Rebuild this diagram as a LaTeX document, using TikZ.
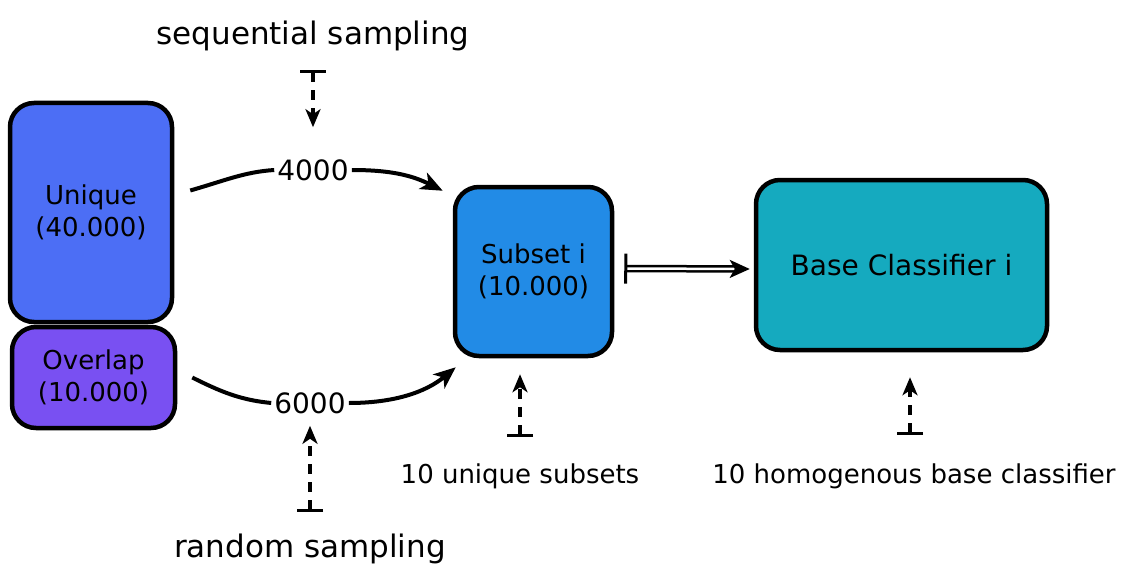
\documentclass[tikz,border=0pt]{standalone}
\usepackage{fontspec}
\setmainfont{DejaVu Sans}
\usepackage{xcolor}
\usetikzlibrary{arrows.meta}

\definecolor{uniqueblue}{HTML}{4C6EF5}
\definecolor{overlapviolet}{HTML}{7950F2}
\definecolor{subsetblue}{HTML}{228BE6}
\definecolor{basecyan}{HTML}{15AABF}

\begin{document}
\begin{tikzpicture}[x=1pt, y=-1pt,
  box/.style={draw=black, line width=4.5pt, rounded corners=24pt, align=center, inner sep=0pt, font=\fontsize{26}{32}\selectfont},
  flow/.style={line width=4pt, -{Stealth[length=22pt,width=18pt,inset=6pt]}},
  link/.style={double, line width=2.5pt, double distance=2.5pt, {Bar[width=30pt,line width=3pt]}-{Stealth[length=20pt,width=18pt,inset=5pt]}},
  hint/.style={line width=3.2pt, dash pattern=on 10pt off 8pt, {Bar[width=26pt]}-{Stealth[length=18pt,width=15pt,inset=5pt]}},
  count/.style={fill=white, inner sep=0pt, inner xsep=3pt, font=\fontsize{28}{30}\selectfont},
  note/.style={inner sep=0pt, anchor=base, font=\fontsize{26}{30}\selectfont},
  title/.style={inner sep=0pt, anchor=base, font=\fontsize{31}{34}\selectfont}]
  % Page frame
  \useasboundingbox (0,0) rectangle (1129,583);

  % Data boxes
  \node[box, fill=uniqueblue, minimum width=162pt, minimum height=219pt] (unique) at (91,212.5) {Unique\\(40.000)};
  \node[box, fill=overlapviolet, minimum width=163pt, minimum height=101pt] (overlap) at (93.5,377.5) {Overlap\\(10.000)};
  \node[box, fill=subsetblue, minimum width=157pt, minimum height=169pt] (subset) at (533.5,271.5) {Subset i\\(10.000)};
  \node[box, fill=basecyan, minimum width=291pt, minimum height=170pt, font=\fontsize{28}{32}\selectfont] (base) at (901.5,265) {Base Classifier i};

  % Counts on the curves
  \node[count] (n4000) at (313,170) {4000};
  \node[count] (n6000) at (310,403) {6000};

  % Sampling curves
  \draw[flow] ([shift={(16pt,22pt)}]unique.east) .. controls +(35,-10) and +(-30,2) .. (n4000.west)
    (n4000.east) .. controls +(40,0) and +(-30,-15) .. ([shift={(-10pt,-6pt)}]subset.north west);
  \draw[flow] ([xshift=15pt]overlap.east) .. controls +(30,15) and +(-30,-3) .. (n6000.west)
    (n6000.east) .. controls +(45,0) and +(-30,25) .. ([shift={(3pt,-9pt)}]subset.south west);

  % Subset to classifier
  \draw[link] ([shift={(10pt,3pt)}]subset.east) -- ([shift={(-4pt,-4pt)}]base.west);

  % Notes
  \node[title] (seq) at (313,45) {sequential sampling};
  \node[title] (rnd) at (310,557) {random sampling};
  \node[note] (subsetnote) at (520,483) {10 unique subsets};
  \node[note] (basenote) at (914,483) {10 homogenous base classifier};

  % Dashed pointers
  \draw[hint] ([yshift=-25pt]seq.base) -- ([yshift=32pt]n4000.north);
  \draw[hint] ([yshift=21pt]rnd.north) -- ([yshift=-12pt]n6000.south);
  \draw[hint] ([yshift=26pt]subsetnote.north) -- ([shift={(-13.5pt,-16pt)}]subset.south);
  \draw[hint] ([shift={(-4pt,28pt)}]basenote.north) -- ([shift={(8.5pt,-25pt)}]base.south);
\end{tikzpicture}
\end{document}
